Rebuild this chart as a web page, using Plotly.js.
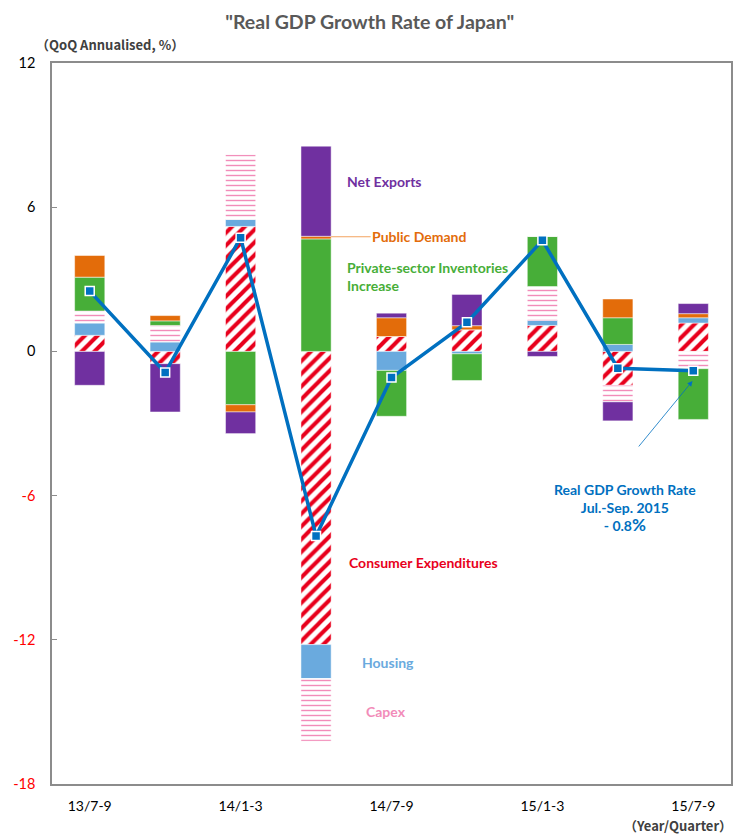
<!DOCTYPE html>
<html>
<head>
<meta charset="utf-8">
<script src="https://cdn.plot.ly/plotly-3.0.1.min.js"></script>
<style>html,body{margin:0;padding:0;background:#fff;}#chart{width:735px;height:838px;}</style>
</head>
<body>
<div id="chart"></div>
<script>
const categories = ['13/7-9','13/10-12','14/1-3','14/4-6','14/7-9','14/10-12','15/1-3','15/4-6','15/7-9'];
const shownTicks = ['13/7-9','14/1-3','14/7-9','15/1-3','15/7-9'];
const consumer     = [0.67, -0.51, 5.20, -12.20, 0.62, 0.90, 1.08, -1.41, 1.18];
const housing      = [0.51,  0.39, 0.29,  -1.41, -0.79, -0.10, 0.21, 0.29, 0.22];
const capex        = [0.50,  0.69, 2.70,  -2.61, 0.00, 0.00, 1.41, -0.69, -0.72];
const inventories  = [1.41,  0.19, -2.22,  4.68, -1.91, -1.11, 2.08, 1.11, -2.11];
const publicDemand = [0.90,  0.22, -0.30,  0.11, 0.78, 0.17, 0.00, 0.78, 0.17];
const netExports   = [-1.41, -2.01, -0.90, 3.75, 0.19, 1.30, -0.21, -0.79, 0.42];
const gdpGrowth    = [2.51, -0.88, 4.73, -7.68, -1.09, 1.21, 4.62, -0.70, -0.80];
const yTickVals = [12, 6, 0, -6, -12, -18];

const FONT = 'Lato, "Open Sans", sans-serif';
const CJK = '"Noto Sans CJK JP", Lato, sans-serif';
const C = {
  consumer: '#e8001c', housing: '#6aaade', capex: '#f28cb9',
  inv: '#47ae38', pub: '#e36c0a', net: '#7030a0', gdp: '#0070c0'
};

function bar(name, y, color, pattern) {
  const m = {color: color, line: {color: 'rgba(255,255,255,0.8)', width: 0.6}};
  if (pattern) m.pattern = pattern;
  return {type: 'bar', name: name, x: categories, y: y, width: 0.4, marker: m, hoverinfo: 'x+y+name'};
}

const traces = [
  bar('Consumer Expenditures', consumer, C.consumer, {shape: '/', fgcolor: C.consumer, bgcolor: '#ffffff', size: 9, solidity: 0.45, fillmode: 'replace'}),
  bar('Housing', housing, C.housing),
  bar('Capex', capex, C.capex, {shape: '-', fgcolor: C.capex, bgcolor: '#ffffff', size: 5, solidity: 0.28, fillmode: 'replace'}),
  bar('Private-sector Inventories Increase', inventories, C.inv),
  bar('Public Demand', publicDemand, C.pub),
  bar('Net Exports', netExports, C.net),
  {type: 'scatter', mode: 'lines+markers', name: 'Real GDP Growth Rate', x: categories, y: gdpGrowth,
   line: {color: C.gdp, width: 3.5},
   marker: {symbol: 'square', size: 9, color: C.gdp, line: {color: '#ffffff', width: 1.5}}}
];

const tickText = yTickVals.map(v => v < 0 ? '<span style="color:#ff0000">' + v + '</span>' : String(v));

function lab(text, x, y, color, extra) {
  return Object.assign({text: text, x: x, y: y, xref: 'x', yref: 'y', showarrow: false,
    xanchor: 'left', yanchor: 'middle', align: 'left',
    font: {family: FONT, size: 14, color: color, weight: 'bold'}}, extra || {});
}

const layout = {
  width: 735, height: 838,
  margin: {l: 52, r: 4, t: 63, b: 54},
  paper_bgcolor: '#ffffff', plot_bgcolor: '#ffffff',
  barmode: 'relative', showlegend: false,
  font: {family: FONT, color: '#000'},
  title: {text: '"Real GDP Growth Rate of Japan"', x: 0.503, xanchor: 'center', y: 0.974, yanchor: 'middle',
          font: {family: FONT, size: 19.5, color: '#595959', weight: 'bold'}},
  xaxis: {type: 'category', categoryorder: 'array', categoryarray: categories, range: [-0.5, 8.5],
          tickmode: 'array', tickvals: shownTicks, ticktext: shownTicks, ticks: '',
          tickfont: {family: FONT, size: 14, color: '#000'},
          showline: true, linecolor: '#8c8c8c', linewidth: 1.5, mirror: true, showgrid: false, zeroline: false,
          ticklabelstandoff: 8},
  xaxis2: {overlaying: 'x', anchor: 'free', position: 0.6, range: [-0.5, 8.5], type: 'linear',
           tickmode: 'array', tickvals: [0.5, 1.5, 2.5, 3.5, 4.5, 5.5, 6.5, 7.5],
           ticks: 'inside', ticklen: 5, tickcolor: '#8c8c8c', tickwidth: 1.2, showticklabels: false,
           showline: true, linecolor: '#8c8c8c', linewidth: 1.5, showgrid: false, zeroline: false, side: 'bottom'},
  yaxis: {range: [-18, 12], tickmode: 'array', tickvals: yTickVals, ticktext: tickText,
          ticks: 'inside', ticklen: 5, tickcolor: '#8c8c8c', tickwidth: 1.2,
          tickfont: {family: FONT, size: 14.5, color: '#000'}, ticklabelstandoff: 12,
          showline: true, linecolor: '#8c8c8c', linewidth: 1.5, mirror: true, showgrid: false, zeroline: false},
  annotations: [
    {text: '（QoQ Annualised, %）', xref: 'paper', yref: 'paper', x: -0.026, y: 1.025, xanchor: 'left', yanchor: 'middle',
     showarrow: false, font: {family: CJK, size: 13, color: '#404040', weight: 'bold'}},
    {text: '（Year/Quarter）', xref: 'paper', yref: 'paper', x: 1.005, y: -0.058, xanchor: 'right', yanchor: 'middle',
     showarrow: false, font: {family: CJK, size: 13, color: '#404040', weight: 'bold'}},
    lab('Net Exports', 3.38, 7.05, C.net),
    {text: 'Public Demand', x: 3.2, y: 4.77, xref: 'x', yref: 'y', showarrow: true, arrowhead: 0,
     arrowwidth: 1.2, arrowcolor: '#f4a460', ax: 88, ay: 0, xanchor: 'center',
     font: {family: FONT, size: 14, color: C.pub, weight: 'bold'}},
    lab('Private-sector Inventories<br>Increase', 3.38, 3.1, C.inv),
    lab('Consumer Expenditures', 3.41, -8.8, C.consumer),
    lab('Housing', 3.58, -12.96, C.housing),
    lab('Capex', 3.64, -15.0, C.capex),
    {text: 'Real GDP Growth Rate<br>Jul.-Sep. 2015<br>- 0.8<span style="font-size:17px">%</span>', x: 7.1, y: -6.5,
     xref: 'x', yref: 'y', showarrow: false, xanchor: 'center', yanchor: 'middle', align: 'center',
     font: {family: FONT, size: 14, color: C.gdp, weight: 'bold'}},
    {text: '', x: 7.99, y: -1.23, xref: 'x', yref: 'y', showarrow: true, arrowhead: 2, arrowsize: 1.3,
     arrowwidth: 0.8, arrowcolor: C.gdp, ax: -55, ay: 67}
  ]
};

Plotly.newPlot('chart', traces, layout, {displayModeBar: false, responsive: false});
</script>
</body>
</html>
